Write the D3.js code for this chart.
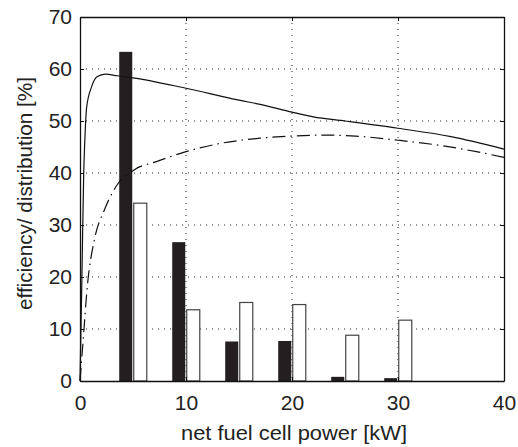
<!DOCTYPE html>
<html>
<head>
<meta charset="utf-8">
<script src="https://cdn.jsdelivr.net/npm/d3@7"></script>
<style>
  body { margin: 0; background: #fff; }
  svg { display: block; font-family: "Liberation Sans", Arial, sans-serif; }
</style>
</head>
<body>
<script>
// power bins (kW) and the two distributions [%]
var powerBins = [5, 10, 15, 20, 25, 30];
var distBlack = [63.3, 26.7, 7.6, 7.7, 0.8, 0.55];
var distWhite = [34.2, 13.7, 15.1, 14.7, 8.8, 11.7];

// efficiency curves [%] vs power
var effSolidX = [0, 0.18, 0.35, 0.45, 0.63, 1.1, 1.6, 2.4, 3.5, 5, 10, 15, 17, 20, 22, 25, 30, 35, 40];
var effSolidY = [0, 20, 40, 46, 52.7, 56.6, 58.5, 59, 58.7, 58.3, 56.3, 54, 53.2, 51.7, 50.8, 50, 48.6, 47, 44.6];
var effDashX = [0, 0.25, 0.72, 1.35, 2.3, 3.4, 5.1, 7.2, 10, 13, 17, 20, 23, 26, 30, 34, 37.4, 40];
var effDashY = [0, 6.6, 18.8, 27.1, 32.9, 37.4, 40.6, 42.2, 44.1, 45.6, 46.7, 47.1, 47.3, 47.1, 46.3, 45.3, 44.1, 43];

var xTicks = [0, 10, 20, 30, 40];
var yTicks = [0, 10, 20, 30, 40, 50, 60, 70];

var width = 518, height = 447;
var margin = {left: 80, right: 14, top: 17, bottom: 66};
var plotW = width - margin.left - margin.right;
var plotH = height - margin.top - margin.bottom;

var svg = d3.select('body').append('svg')
  .attr('width', width)
  .attr('height', height);

var g = svg.append('g')
  .attr('transform', 'translate(' + margin.left + ',' + margin.top + ')');

var x = d3.scaleLinear().domain([0, 40]).range([0, plotW]);
var y = d3.scaleLinear().domain([0, 70]).range([plotH, 0]);

// dotted grid
g.selectAll('.gx').data(xTicks.slice(1, -1)).enter().append('line')
  .attr('x1', function(d) { return x(d); })
  .attr('x2', function(d) { return x(d); })
  .attr('y1', 0).attr('y2', plotH)
  .attr('stroke', '#222').attr('stroke-width', 1)
  .attr('stroke-dasharray', '1,5');
g.selectAll('.gy').data(yTicks.slice(1, -1)).enter().append('line')
  .attr('y1', function(d) { return y(d); })
  .attr('y2', function(d) { return y(d); })
  .attr('x1', 0).attr('x2', plotW)
  .attr('stroke', '#222').attr('stroke-width', 1)
  .attr('stroke-dasharray', '1,5');

// bars
var bars = g.selectAll('.bin').data(powerBins).enter().append('g');
bars.append('rect')
  .attr('x', function(d) { return x(d - 1.3); })
  .attr('width', function(d) { return x(d - 0.07) - x(d - 1.3); })
  .attr('y', function(d, i) { return y(distBlack[i]); })
  .attr('height', function(d, i) { return plotH - y(distBlack[i]); })
  .attr('fill', '#231f20');
bars.append('rect')
  .attr('x', function(d) { return x(d + 0.07); })
  .attr('width', function(d) { return x(d + 1.3) - x(d + 0.07); })
  .attr('y', function(d, i) { return y(distWhite[i]); })
  .attr('height', function(d, i) { return plotH - y(distWhite[i]); })
  .attr('fill', '#fff')
  .attr('stroke', '#444')
  .attr('stroke-width', 1.2);

// curves
var line = d3.line()
  .x(function(d) { return x(d[0]); })
  .y(function(d) { return y(d[1]); })
  .curve(d3.curveMonotoneX);

g.append('path')
  .attr('d', line(d3.zip(effSolidX, effSolidY)))
  .attr('fill', 'none').attr('stroke', '#111').attr('stroke-width', 1.2);

g.append('path')
  .attr('d', line(d3.zip(effDashX, effDashY)))
  .attr('fill', 'none').attr('stroke', '#111').attr('stroke-width', 1.2)
  .attr('stroke-dasharray', '13,5,1.5,5');

// axes with inward ticks on all four sides
var tickLen = 4;
var xBottom = g.append('g')
  .attr('transform', 'translate(0,' + plotH + ')')
  .call(d3.axisBottom(x).tickValues(xTicks).tickSizeInner(-tickLen).tickSizeOuter(0).tickPadding(14));
var yLeft = g.append('g')
  .call(d3.axisLeft(y).tickValues(yTicks).tickSizeInner(-tickLen).tickSizeOuter(0).tickPadding(8));
var xTop = g.append('g')
  .call(d3.axisTop(x).tickValues(xTicks).tickSizeInner(-tickLen).tickSizeOuter(0).tickFormat(''));
var yRight = g.append('g')
  .attr('transform', 'translate(' + plotW + ',0)')
  .call(d3.axisRight(y).tickValues(yTicks).tickSizeInner(-tickLen).tickSizeOuter(0).tickFormat(''));

[xBottom, yLeft, xTop, yRight].forEach(function(a) {
  a.selectAll('path').attr('stroke', '#111').attr('stroke-width', 1.3);
  a.selectAll('line').attr('stroke', '#111');
  a.selectAll('text')
    .attr('fill', '#222')
    .style('font-size', '21px')
    .style('font-family', '"Liberation Sans", Arial, sans-serif');
});

// axis titles
svg.append('text')
  .attr('x', 294)
  .attr('y', 440)
  .attr('text-anchor', 'middle')
  .attr('fill', '#222')
  .style('font-size', '21px')
  .attr('textLength', 226)
  .attr('lengthAdjust', 'spacingAndGlyphs')
  .text('net fuel cell power [kW]');

svg.append('text')
  .attr('transform', 'translate(32,193.5) rotate(-90)')
  .attr('text-anchor', 'middle')
  .attr('fill', '#222')
  .style('font-size', '21px')
  .attr('textLength', 233)
  .attr('lengthAdjust', 'spacingAndGlyphs')
  .text('efficiency/ distribution [%]');
</script>
</body>
</html>
